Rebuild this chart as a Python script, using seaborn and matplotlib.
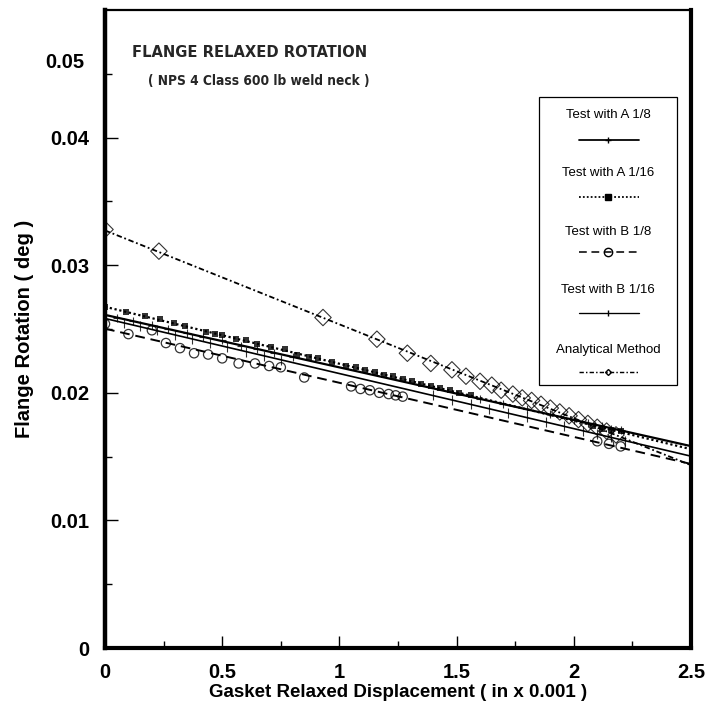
import matplotlib
matplotlib.use("Agg")
import matplotlib.pyplot as plt
import seaborn as sns
import numpy as np
from matplotlib.patches import Rectangle
from matplotlib.lines import Line2D

sns.set_theme(style="white")
plt.rcParams["font.family"] = ["Liberation Sans", "DejaVu Sans"]

# ---- measured data (gasket relaxed displacement, in x 0.001 / flange rotation, deg) ----
a18_x = [0.00, 0.05, 0.12, 0.20, 0.27, 0.35, 0.42, 0.50, 0.58, 0.65, 0.72, 0.80,
         1.60, 1.70, 1.80, 1.90, 2.00, 2.06, 2.12, 2.16, 2.20]
a18_y = [0.0261, 0.0259, 0.0256, 0.0253, 0.0250, 0.0247, 0.0244, 0.0241, 0.0237, 0.0234,
         0.0231, 0.0228, 0.0195, 0.0191, 0.0187, 0.0183, 0.0179, 0.0176, 0.0174, 0.0172, 0.0171]

a116_x = [0.00, 0.09, 0.17, 0.235, 0.295, 0.34, 0.43, 0.47, 0.50, 0.56, 0.60, 0.65, 0.71,
          0.77, 0.82, 0.87, 0.91, 0.97, 1.03, 1.07, 1.11, 1.15, 1.19, 1.23, 1.27, 1.31,
          1.35, 1.39, 1.43, 1.47, 1.51, 1.56, 2.08, 2.12, 2.16, 2.20]
a116_y = [0.0267, 0.0263, 0.0260, 0.0258, 0.0255, 0.0252, 0.0248, 0.0246, 0.0245, 0.0242,
          0.0241, 0.0238, 0.0236, 0.0234, 0.0230, 0.0228, 0.0227, 0.0224, 0.0221, 0.0220,
          0.0218, 0.0216, 0.0214, 0.0213, 0.0211, 0.0209, 0.0207, 0.0205, 0.0204, 0.0202,
          0.0200, 0.0198, 0.0174, 0.0172, 0.0171, 0.0170]

b18_x = [0.00, 0.10, 0.20, 0.26, 0.32, 0.38, 0.44, 0.50, 0.57, 0.64, 0.70, 0.75, 0.85,
         1.05, 1.09, 1.13, 1.17, 1.21, 1.24, 1.27, 2.10, 2.15, 2.20]
b18_y = [0.0254, 0.0246, 0.0249, 0.0239, 0.0235, 0.0231, 0.0230, 0.0227, 0.0223, 0.0223,
         0.0221, 0.0220, 0.0212, 0.0205, 0.0203, 0.0202, 0.0200, 0.0199, 0.0198, 0.0197,
         0.0162, 0.0160, 0.0158]

b116_x = [0.00, 0.08, 0.15, 0.22, 0.30, 0.37, 0.45, 0.52, 0.60, 0.68, 0.75, 1.40, 1.48,
          1.56, 1.64, 1.72, 1.80, 1.88, 1.96, 2.04, 2.10, 2.16, 2.22]
b116_y = [0.0258, 0.0255, 0.0252, 0.0249, 0.0245, 0.0242, 0.0239, 0.0236, 0.0232, 0.0229,
          0.0226, 0.0198, 0.0194, 0.0191, 0.0187, 0.0184, 0.0181, 0.0177, 0.0174, 0.0170,
          0.0168, 0.0165, 0.0162]

an_x = [0.00, 0.23, 0.93, 1.16, 1.29, 1.39, 1.48, 1.54, 1.60, 1.65, 1.69, 1.74, 1.78,
        1.82, 1.86, 1.90, 1.94, 1.98, 2.02, 2.06, 2.10, 2.14, 2.18]
an_y = [0.0328, 0.0311, 0.0259, 0.0242, 0.0231, 0.0223, 0.0218, 0.0213, 0.0209, 0.0206,
        0.0202, 0.0199, 0.0196, 0.0194, 0.0191, 0.0188, 0.0185, 0.0182, 0.0179, 0.0176,
        0.0173, 0.0170, 0.0167]

series_labels = ["Test with A 1/8", "Test with A 1/16", "Test with B 1/8",
                 "Test with B 1/16", "Analytical Method"]
x_ticks = [0, 0.5, 1, 1.5, 2, 2.5]
x_ticklabels = ["0", "0.5", "1", "1.5", "2", "2.5"]
y_ticks = [0, 0.01, 0.02, 0.03, 0.04]
y_ticklabels = ["0", "0.01", "0.02", "0.03", "0.04"]

# ---- figure ----
fig = plt.figure(figsize=(7.10, 7.11), dpi=100)
ax = fig.add_axes([105 / 710, 1 - 648 / 711, 586 / 710, 638 / 711])
ax.set_xlim(0, 2.5)
ax.set_ylim(0, 0.05)

K = "black"
styles = [
    dict(marker="+", scatter_kws=dict(s=30, linewidths=0.8),
         line_kws=dict(lw=1.6, ls="-")),
    dict(marker="s", scatter_kws=dict(s=16, linewidths=0),
         line_kws=dict(lw=1.6, ls=(0, (1, 1.2)))),
    dict(marker="o", scatter_kws=dict(s=45, facecolors="none", linewidths=0.9),
         line_kws=dict(lw=1.4, ls=(0, (5, 3)))),
    dict(marker="|", scatter_kws=dict(s=60, linewidths=0.8),
         line_kws=dict(lw=1.2, ls="-")),
    dict(marker="D", scatter_kws=dict(s=70, facecolors="none", linewidths=0.8),
         line_kws=dict(lw=1.3, ls=(0, (3, 1.5, 1, 1.5)))),
]
datasets = [(a18_x, a18_y), (a116_x, a116_y), (b18_x, b18_y),
            (b116_x, b116_y), (an_x, an_y)]

for (xs, ys), st in zip(datasets, styles):
    sns.regplot(x=np.array(xs), y=np.array(ys), ax=ax, ci=None, truncate=False,
                color=K, marker=st["marker"], scatter_kws=st["scatter_kws"],
                line_kws=st["line_kws"])

ax.set_xlim(0, 2.5)
ax.set_ylim(0, 0.05)

# ---- axes styling ----
for side, w in [("left", 3.2), ("bottom", 3.0), ("right", 3.0), ("top", 1.6)]:
    ax.spines[side].set_visible(True)
    ax.spines[side].set_color(K)
    ax.spines[side].set_linewidth(w)

ax.set_xticks(x_ticks)
ax.set_xticklabels(x_ticklabels)
ax.set_yticks(y_ticks)
ax.set_yticklabels(y_ticklabels)
ax.set_xticks(np.arange(0.25, 2.5, 0.5), minor=True)
ax.set_yticks(np.arange(0.005, 0.05, 0.01), minor=True)
ax.tick_params(axis="both", which="major", direction="in", length=9, width=1.0,
               colors=K, labelsize=14.5, pad=11)
ax.tick_params(axis="both", which="minor", direction="in", length=5, width=1.0, colors=K)
ax.tick_params(axis="x", which="both", bottom=True, top=False)
ax.tick_params(axis="y", which="both", left=True, right=False)
for lab in ax.get_xticklabels() + ax.get_yticklabels():
    lab.set_fontweight("bold")
# top label of the rotation scale, as printed on the chart
ax.text(-0.035, 0.917, "0.05", transform=ax.transAxes, ha="right", va="center",
        fontsize=14.5, fontweight="bold", color=K)

ax.set_xlabel("Gasket Relaxed Displacement ( in x 0.001 )", fontsize=13.5,
              fontweight="bold", labelpad=1, color=K)
ax.set_ylabel("Flange Rotation ( deg )", fontsize=14.5, fontweight="bold",
              labelpad=12, color=K)

# ---- in-plot title (condensed bold face) ----
cond = ["DejaVu Sans"]
ax.text(0.247, 0.934, "FLANGE RELAXED ROTATION", transform=ax.transAxes,
        ha="center", va="center", fontsize=11.8, fontweight="bold", family=cond,
        fontstretch="condensed")
ax.text(0.262, 0.889, "( NPS 4 Class 600 lb weld neck )", transform=ax.transAxes,
        ha="center", va="center", fontsize=9.8, fontweight="bold", family=cond,
        fontstretch="condensed")

# ---- legend panel: label above each line sample ----
lx0, lx1, ly0, ly1 = 0.741, 0.976, 0.412, 0.864
ax.add_patch(Rectangle((lx0, ly0), lx1 - lx0, ly1 - ly0, transform=ax.transAxes,
                       facecolor="white", edgecolor=K, lw=0.9, zorder=5))
text_y = [0.835, 0.745, 0.652, 0.561, 0.467]
line_y = [0.796, 0.707, 0.621, 0.525, 0.433]
cx = 0.859
for lab, ty, ly, st in zip(series_labels, text_y, line_y, styles):
    ax.text(cx, ty, lab, transform=ax.transAxes, ha="center", va="center",
            fontsize=9.5, color=K, zorder=6)
    ax.add_line(Line2D([0.809, 0.911], [ly, ly], transform=ax.transAxes, color=K,
                       lw=st["line_kws"]["lw"] * 0.8, ls=st["line_kws"]["ls"], zorder=6))
    mfc = "none" if st["scatter_kws"].get("facecolors") == "none" else K
    ms = {"+": 4, "s": 4, "o": 6, "|": 5, "D": 3}[st["marker"]]
    ax.add_line(Line2D([cx], [ly], transform=ax.transAxes, color=K, marker=st["marker"],
                       ms=ms, mfc=mfc, mec=K, ls="none", zorder=7))

fig.savefig("out.png", dpi=100, facecolor="white")
